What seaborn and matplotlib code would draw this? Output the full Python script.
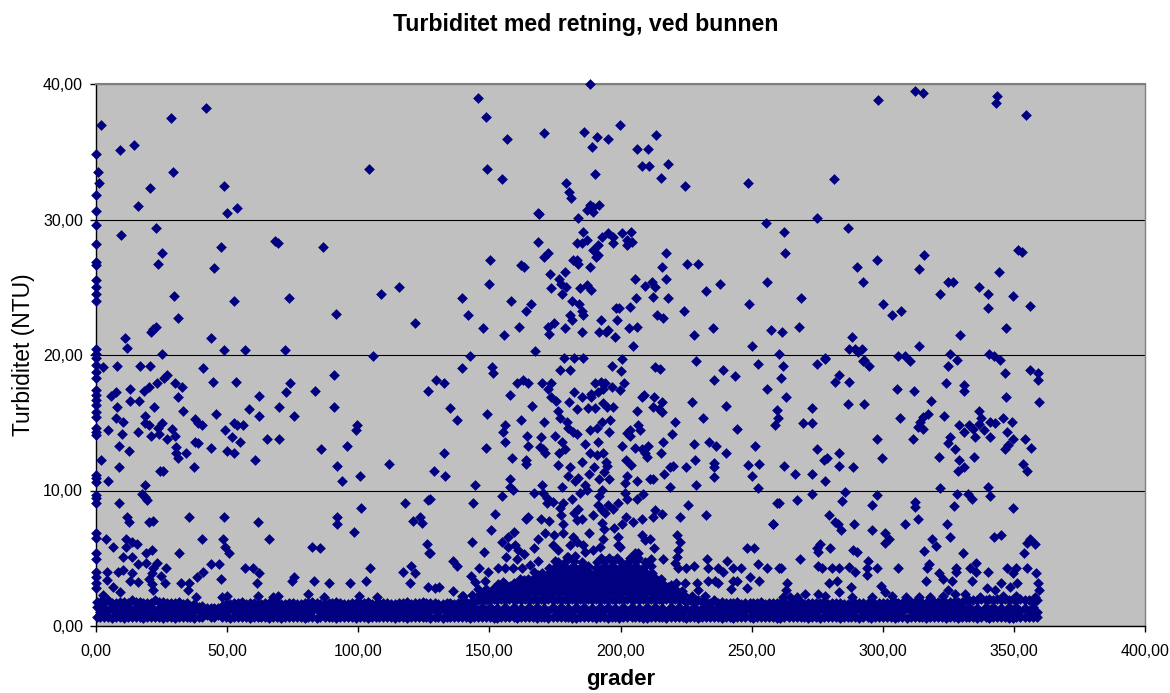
import matplotlib

matplotlib.use("Agg")

import matplotlib.pyplot as plt
import pandas as pd
import seaborn as sns
from matplotlib.ticker import FuncFormatter

# single readings, grouped by the part of the chart they were read from
upper_left_x = [1.9, 28.6, 42.0, 0.1, 9.3, 14.6, 0.9, 29.4, 104.1, 1.3, 20.6, 48.9, 0.1, 16.0, 53.9, 50.0, 0.1, 0.1,
                23.0, 9.6, 0.1, 47.5, 68.3, 69.3, 86.6, 25.0, 0.1, 0.1, 23.8, 45.1, 0.1, 0.1, 0.1, 0.1, 29.6, 52.7,
                73.6, 108.7, 115.7, 91.5, 121.8, 31.4, 22.8, 21.9, 20.8, 10.9, 11.8, 43.7, 48.9, 56.7, 72.2, 25.0,
                105.8, 0.1, 0.1]
upper_left_y = [37.0, 37.5, 38.2, 34.8, 35.1, 35.5, 33.5, 33.5, 33.7, 32.7, 32.35, 32.5, 31.8, 31.0, 30.85, 30.5, 30.65, 29.6,
                29.35, 28.85, 28.2, 28.0, 28.4, 28.25, 28.0, 27.5, 26.9, 26.65, 26.75, 26.4, 25.5, 25.0, 24.5, 24.0, 24.35, 24.0,
                24.2, 24.5, 25.0, 23.0, 22.35, 22.75, 22.1, 21.9, 21.7, 21.25, 20.5, 21.25, 20.35, 20.35, 20.35, 20.1,
                19.9, 20.45, 20.1]

axis_y = [19.75, 19.26, 18.77, 18.28, 17.42, 17.05, 16.68, 16.31, 15.82, 15.45, 14.59, 14.34, 14.1, 11.15, 10.9, 10.65,
          9.67, 9.42, 9.05, 6.84, 6.47, 5.36, 4.92, 4.0, 3.64, 3.15, 2.78]
axis_x = [0.1, 0.1, 0.1, 0.1, 0.1, 0.1, 0.1, 0.1, 0.1, 0.1, 0.1, 0.1, 0.1, 0.1, 0.1, 0.1,
          0.1, 0.1, 0.1, 0.1, 0.1, 0.1, 0.1, 0.1, 0.1, 0.1, 0.1]

lower_left_x = [2.5, 7.9, 16.9, 20.6, 40.9, 27.2, 25.9, 23.4, 20.3, 18.4, 12.8, 30.0, 32.9, 31.1, 44.7, 53.5, 90.8, 74.1,
                72.5, 83.4, 62.3, 126.6, 7.6, 5.6, 13.1, 16.3, 7.9, 22.2, 33.2, 45.8, 58.5, 69.7, 62.0, 75.6, 90.8, 18.7,
                7.6, 10.4, 18.7, 20.3, 25.0, 23.8, 24.0, 37.8, 39.0, 40.3, 52.6, 53.6, 55.9, 49.0, 4.7, 9.9, 16.1, 21.0,
                29.0, 30.1, 27.2, 51.7, 54.9, 65.1, 69.7, 99.4, 99.1, 95.6, 85.8, 8.6, 12.5, 30.4, 30.4, 31.4, 34.3, 37.9,
                39.0, 43.7, 50.0, 52.6, 60.6, 1.9, 8.6, 24.4, 25.4, 37.5, 91.8, 111.9, 100.7, 93.7, 4.7, 18.8, 17.5, 18.7,
                19.6, 8.6, 117.8, 126.6, 101.0, 11.7, 12.7, 20.1, 21.9, 35.6, 48.7, 61.6, 92.0, 91.8, 121.0, 123.5, 124.2,
                98.5, 3.7, 11.4, 13.6, 15.5, 11.4, 6.6, 40.5, 48.3, 49.2, 50.7, 65.8, 82.4, 85.5, 126.2, 127.0, 21.2, 18.9,
                31.6, 10.4, 13.6, 16.1, 18.9, 23.1, 21.9, 21.2, 26.8, 43.8, 47.0, 56.8, 60.0, 62.3, 40.8, 38.4, 104.5,
                120.1, 117.0, 121.8, 10.4, 8.5, 13.6, 4.1, 75.6, 74.9, 83.3, 89.0, 96.8, 103.0, 47.5, 61.3, 119.6, 32.3,
                35.6, 20.3, 21.2, 21.9, 24.7, 26.3, 13.0, 16.1, 4.1, 6.6, 35.2, 38.1, 126.6, 81.0, 61.9, 69.5, 67.6, 87.0,
                100.4, 107.3, 49.8, 47.9, 9.1, 2.8]
lower_left_y = [19.09, 19.19, 19.19, 19.19, 19.04, 18.53, 18.28, 17.9, 17.66, 17.37, 17.52, 17.9, 17.66, 16.88, 18.03, 18.03, 18.53, 17.9,
                17.25, 17.37, 17.0, 17.37, 17.25, 17.0, 16.63, 16.63, 16.14, 16.14, 15.87, 15.62, 15.99, 16.14, 15.5, 15.5, 16.14, 15.5,
                15.33, 15.08, 15.0, 14.8, 15.0, 14.59, 14.2, 15.25, 15.0, 14.8, 15.0, 14.84, 14.84, 14.47, 14.47, 14.2, 14.32, 14.02,
                14.56, 14.02, 13.83, 13.92, 13.56, 13.83, 13.83, 14.86, 14.44, 13.29, 13.04, 13.29, 12.89, 13.19, 12.74, 12.37, 12.74, 13.56,
                13.53, 13.16, 12.89, 12.74, 12.23, 12.23, 11.74, 11.46, 11.46, 11.74, 11.83, 11.98, 11.07, 10.68, 10.68, 10.43, 9.74, 9.55,
                9.3, 9.08, 9.08, 9.32, 8.71, 8.07, 7.7, 7.65, 7.77, 8.05, 8.05, 7.65, 8.05, 7.5, 7.77, 8.07, 7.63,
                6.96, 6.45, 6.45, 6.22, 6.05, 5.86, 5.86, 6.42, 6.45, 5.81, 5.36, 6.42, 5.86, 5.73, 6.03, 5.36, 5.61, 5.36,
                5.36, 5.07, 5.07, 4.55, 4.67, 4.63, 4.26, 3.94, 4.28, 4.55, 4.55, 4.28, 4.28, 3.89, 4.01, 3.59, 4.28,
                4.43, 4.01, 3.89, 4.13, 4.01, 3.94, 4.01, 3.59, 3.35, 3.35, 3.2, 3.2, 3.35, 3.47, 3.2, 3.2, 3.2,
                3.2, 3.45, 3.1, 2.66, 3.69, 3.2, 3.35, 3.27, 3.4, 2.9, 2.66, 2.12, 2.9, 2.36, 2.2, 2.2, 2.12, 2.12,
                2.2, 2.12, 2.2, 2.12, 2.53, 2.29]

upper_mid_x = [145.5, 148.7, 188.4, 156.8, 170.8, 186.0, 191.0, 195.1, 199.7, 213.7, 189.1, 206.3, 210.5, 149.0, 154.7, 190.2,
               179.2, 180.4, 181.0, 208.3, 210.9, 218.1, 215.5, 224.6, 248.8, 168.7, 168.9, 183.8, 187.1, 188.4, 189.6, 189.6,
               191.9, 255.5, 185.6, 187.1, 185.2, 183.4, 192.8, 195.4, 197.0, 197.1, 200.7, 204.1, 202.4, 204.3, 202.4, 191.6,
               189.6, 191.6, 190.5, 168.7, 172.5, 170.8, 181.8, 183.4, 183.9, 150.4, 161.9, 163.2, 188.4, 217.5, 215.8, 225.5,
               229.4, 173.0, 178.8, 176.6, 177.2, 179.2, 173.6, 177.8, 184.7, 187.1, 188.6, 149.7, 205.7, 209.3, 211.9, 213.2,
               217.5, 238.0, 232.5, 255.9, 139.6, 158.1, 166.0, 163.8, 141.7, 181.6, 184.2, 185.2, 185.6, 180.6, 181.6, 205.9,
               212.5, 218.1, 203.7, 198.3, 199.4, 249.1, 224.2, 213.8, 216.1, 192.7, 198.5, 147.7, 155.7, 161.3, 174.6, 172.5,
               172.9, 178.8, 185.3, 191.8, 194.5, 195.4, 197.9, 203.2, 206.3, 235.1, 228.2, 257.5, 204.6, 250.1, 167.3]
upper_mid_y = [38.97, 37.59, 39.98, 35.95, 36.36, 36.49, 36.12, 35.95, 36.98, 36.22, 35.33, 35.2, 35.2, 33.73, 32.97, 33.34,
               32.72, 32.0, 31.59, 33.98, 33.98, 34.1, 33.09, 32.48, 32.72, 30.46, 30.38, 30.1, 30.7, 31.07, 30.95, 30.58,
               31.1, 29.75, 29.1, 28.5, 28.3, 28.25, 28.74, 28.98, 28.74, 28.25, 28.98, 29.1, 28.5, 28.37, 28.12, 28.12,
               27.75, 27.39, 27.2, 28.37, 27.51, 27.24, 27.0, 27.0, 26.75, 27.0, 26.62, 26.5, 26.5, 27.51, 26.5, 26.75,
               26.75, 25.98, 26.13, 25.61, 25.24, 25.0, 24.97, 24.48, 24.97, 25.2, 24.78, 25.24, 25.61, 25.12, 25.39, 25.0,
               25.61, 25.24, 24.75, 25.37, 24.24, 23.99, 23.74, 23.23, 22.98, 23.99, 23.74, 23.23, 22.98, 22.98, 22.59, 24.24,
               24.31, 24.24, 23.57, 23.47, 23.47, 23.74, 23.23, 22.98, 22.74, 22.61, 22.61, 21.97, 21.46, 22.1, 22.34, 22.1,
               21.58, 21.97, 21.73, 21.73, 21.73, 21.85, 21.33, 21.97, 22.1, 21.97, 21.46, 21.85, 20.69, 20.69, 20.32]

lower_mid_x = [142.6, 139.6, 151.0, 151.5, 178.6, 182.3, 185.6, 176.9, 180.7, 200.6, 196.8, 200.3, 213.3, 215.1, 228.8, 239.2,
               235.5, 243.5, 252.3, 255.9, 129.6, 132.6, 160.4, 162.7, 164.9, 170.0, 173.4, 172.5, 157.9, 173.5, 175.4, 166.3,
               176.2, 177.0, 180.5, 183.5, 182.1, 185.3, 188.6, 188.6, 190.3, 192.4, 194.1, 191.5, 193.2, 196.6, 201.3, 199.9,
               208.1, 209.0, 212.6, 193.5, 195.0, 197.3, 187.7, 190.3, 206.3, 212.5, 215.8, 214.8, 216.0, 227.4, 240.4, 231.3,
               220.7, 259.6, 260.2, 259.0, 244.3, 135.0, 137.5, 149.1, 162.1, 170.8, 156.1, 155.1, 156.1, 179.7, 180.1, 182.0,
               183.3, 188.4, 190.9, 193.0, 196.1, 195.5, 202.4, 203.6, 203.6, 206.7, 207.3, 219.8, 164.5, 169.8, 175.0, 177.7,
               164.9, 169.3, 170.6, 171.3, 186.3, 191.5, 200.7, 205.5, 208.1, 210.6, 209.3, 210.2, 216.2, 215.3, 228.0, 233.9,
               236.4, 240.4, 251.3, 132.8, 148.7, 178.8, 176.6, 188.4, 190.9, 193.5, 158.5, 164.0, 164.0, 176.2, 180.6, 185.3,
               194.5, 195.0, 202.1, 204.0, 228.4, 189.8, 220.1, 218.9, 224.8, 235.7, 235.7, 248.8, 252.9, 128.9, 133.1, 157.9,
               193.7, 188.0, 183.9, 182.7, 179.9, 191.8, 195.5, 202.4, 201.7, 206.2, 211.3, 212.3, 216.6, 235.5, 250.1, 144.5,
               170.2, 177.6, 228.7, 218.9, 252.6, 159.1, 157.9, 186.5, 187.1, 184.6, 192.8, 191.9, 201.7, 202.4, 208.7, 206.2,
               167.0, 170.6, 171.8, 171.8, 174.4, 154.7, 143.9, 127.4, 181.4, 178.2, 176.9, 177.2, 199.2, 191.6, 192.8, 194.1,
               195.4, 197.0, 225.9, 259.6, 152.2, 183.9, 182.3, 183.3, 185.2, 189.4, 213.2, 216.0, 212.3, 208.3, 202.0, 204.9,
               200.5, 197.6, 222.8, 232.6, 258.0, 164.9, 164.0, 169.8, 172.7, 178.2, 192.8, 193.7, 150.6, 159.5, 157.2, 171.2,
               168.7, 174.8, 178.0, 182.0, 188.0, 208.1, 211.3, 209.3, 221.4, 222.7, 143.4, 154.7, 159.8, 157.2, 156.3, 160.4,
               163.3, 161.0, 174.4, 176.3, 199.2, 199.2, 199.8, 193.5, 192.2, 189.6, 185.8, 186.5, 180.7, 183.3, 167.0, 148.0,
               212.6, 127.4, 222.0, 205.5, 206.8, 248.1, 250.9, 136.3, 137.8, 146.0, 149.6, 153.4, 156.0, 158.9, 162.6, 165.5,
               168.7, 175.0, 180.1, 221.4, 220.8, 222.1, 225.0, 228.2, 216.3, 211.5, 233.0, 233.2, 237.3, 240.5, 239.2, 243.0,
               245.8, 252.4, 256.0, 260.4, 249.5, 252.9, 233.5, 236.0, 237.3, 243.0, 244.6, 242.0, 248.4, 221.2, 224.6, 229.0,
               229.7, 232.2, 142.9, 144.5, 148.3, 155.3, 157.9, 130.9, 129.3, 136.3, 139.4]
lower_mid_y = [19.95, 19.04, 19.14, 18.65, 19.75, 19.75, 19.75, 18.92, 18.92, 19.68, 19.19, 18.8, 19.09, 18.94, 19.56, 18.92,
               18.16, 18.43, 19.31, 17.52, 18.16, 17.91, 17.91, 18.16, 17.91, 17.91, 17.91, 17.52, 17.02, 16.88, 16.63, 16.26,
               15.87, 15.33, 16.51, 15.99, 17.27, 16.88, 17.15, 16.88, 17.91, 18.03, 17.91, 17.29, 17.47, 17.66, 17.91, 17.42,
               16.88, 17.02, 16.88, 16.43, 16.14, 16.14, 16.11, 16.11, 15.87, 16.14, 16.56, 15.99, 15.82, 16.51, 16.26, 15.35,
               15.08, 15.94, 15.33, 14.84, 14.56, 16.11, 15.2, 15.62, 15.2, 15.08, 14.84, 14.32, 13.56, 15.08, 14.59, 14.34,
               14.17, 14.47, 14.59, 15.08, 15.2, 14.32, 14.27, 14.47, 14.0, 14.84, 14.44, 14.2, 14.05, 13.92, 14.05, 13.56,
               13.29, 13.24, 13.04, 12.79, 13.41, 13.56, 13.29, 13.16, 13.04, 13.29, 12.74, 12.45, 13.56, 12.77, 13.41, 13.56,
               13.29, 12.77, 13.29, 12.77, 13.16, 13.04, 12.77, 12.77, 12.65, 12.77, 12.37, 12.25, 11.93, 11.86, 11.74, 12.13,
               12.13, 11.83, 12.25, 11.86, 12.25, 11.74, 11.83, 11.71, 11.74, 12.0, 11.71, 11.86, 11.98, 11.46, 11.07, 10.83,
               11.34, 11.19, 10.9, 10.7, 11.07, 10.83, 10.83, 11.07, 10.53, 10.7, 10.83, 10.83, 11.19, 11.02, 11.07, 10.43,
               10.43, 10.28, 10.43, 10.28, 10.16, 10.04, 10.28, 10.41, 10.04, 9.84, 10.04, 9.62, 9.84, 9.37, 9.74, 9.37,
               9.84, 9.84, 9.42, 9.05, 9.18, 9.62, 9.08, 9.35, 9.37, 9.05, 8.69, 8.19, 9.08, 8.93, 8.56, 8.32,
               8.93, 8.61, 8.96, 9.05, 8.29, 8.61, 8.32, 7.82, 7.9, 8.17, 8.56, 8.29, 8.07, 7.9, 8.07, 7.65,
               7.53, 7.26, 8.02, 8.17, 7.5, 8.02, 7.87, 7.9, 7.77, 7.53, 7.63, 7.18, 7.09, 6.96, 6.59, 6.84,
               6.45, 6.72, 6.84, 6.59, 6.84, 6.72, 6.45, 6.35, 6.72, 6.2, 6.22, 6.18, 5.98, 5.86, 5.12, 4.92,
               5.32, 5.61, 5.98, 5.61, 6.59, 5.98, 5.86, 6.45, 5.86, 5.61, 5.98, 5.49, 5.98, 6.22, 5.73, 5.49,
               5.73, 5.37, 5.61, 5.37, 5.37, 5.73, 5.73, 4.82, 4.43, 4.28, 4.0, 4.28, 4.28, 4.28, 4.28, 4.5,
               4.82, 4.82, 5.12, 5.12, 4.63, 4.26, 4.28, 4.43, 4.92, 4.92, 4.92, 4.28, 4.28, 4.82, 4.0, 4.28,
               4.28, 4.55, 4.28, 4.28, 3.59, 3.35, 3.35, 3.35, 3.15, 3.35, 3.35, 2.73, 2.78, 3.2, 3.2, 3.15,
               2.66, 2.2, 3.69, 3.22, 3.35, 3.22, 2.95, 2.9, 2.78, 2.61, 2.2]

upper_right_x = [298.3, 312.2, 315.2, 343.7, 343.3, 354.5, 281.5, 274.8, 262.5, 286.7, 262.6, 290.3, 297.7, 315.9, 313.7, 351.6,
                 353.2, 344.2, 292.6, 324.7, 326.8, 321.8, 336.8, 340.1, 349.5, 268.8, 300.0, 303.6, 307.1, 340.1, 356.0, 347.1,
                 261.4, 268.2, 288.1, 329.6, 313.8, 287.1, 289.4, 290.7, 292.0, 260.4]
upper_right_y = [38.85, 39.49, 39.34, 39.12, 38.58, 37.72, 32.97, 30.12, 29.11, 29.35, 27.51, 26.5, 27.0, 27.39, 26.38, 27.75,
                 27.6, 26.13, 25.37, 25.37, 25.37, 24.48, 25.0, 24.48, 24.36, 24.24, 23.74, 22.98, 23.23, 23.47, 23.6, 21.97,
                 21.73, 22.1, 21.33, 21.46, 20.69, 20.45, 20.45, 20.25, 20.45, 20.05]

lower_right_x = [277.8, 305.9, 308.5, 325.6, 340.4, 342.4, 292.7, 328.2, 344.7, 261.8, 274.8, 278.0, 292.6, 294.8, 310.4, 325.0,
                 261.1, 283.3, 281.8, 287.1, 305.3, 312.0, 324.0, 331.0, 331.0, 346.5, 356.3, 359.1, 359.1, 263.1, 347.1, 359.4,
                 318.3, 273.0, 286.7, 292.7, 269.7, 273.0, 306.4, 317.2, 315.5, 314.2, 313.6, 315.5, 323.2, 329.2, 331.0, 333.0,
                 334.3, 335.2, 336.6, 337.6, 336.8, 338.7, 340.9, 342.9, 340.8, 345.7, 349.3, 347.5, 297.7, 311.7, 325.6, 325.0,
                 349.8, 347.9, 346.5, 354.1, 356.6, 274.8, 327.4, 283.4, 278.6, 277.7, 299.7, 321.4, 329.2, 334.9, 262.5, 283.3,
                 288.5, 331.0, 328.8, 353.5, 354.9, 266.7, 273.0, 278.0, 321.8, 340.1, 340.8, 273.0, 285.6, 297.9, 328.4, 332.6,
                 334.0, 267.2, 260.4, 284.6, 295.8, 312.3, 312.3, 327.2, 349.5, 279.4, 281.8, 283.1, 284.2, 313.4, 289.2, 258.3,
                 308.5, 324.6, 295.9, 300.9, 302.5, 300.9, 325.6, 318.6, 320.4, 342.4, 345.0, 356.1, 354.9, 358.0, 353.9, 276.1,
                 274.8, 275.2, 280.0, 288.5, 290.0, 315.9, 330.6, 268.4, 294.5, 293.9, 294.1, 261.1, 275.4, 277.0, 280.5, 283.3,
                 287.1, 289.5, 297.7, 305.7, 317.6, 317.0, 321.4, 323.1, 326.3, 327.8, 327.8, 333.3, 335.6, 335.6, 340.3, 347.5,
                 350.7, 349.5, 354.9, 358.4, 279.4, 282.4, 316.5, 334.2, 345.1, 351.3, 348.5, 359.1, 359.4, 263.6, 263.1, 287.8,
                 283.3, 299.3, 300.9, 303.4, 325.0, 327.5, 339.6, 342.8, 331.4, 270.3, 261.8, 264.6, 267.2, 275.4, 278.0, 288.1,
                 295.8, 308.9, 313.9, 318.0, 322.8, 337.1, 346.0, 351.0, 358.0]
lower_right_y = [19.76, 19.96, 19.96, 20.08, 20.08, 19.96, 19.64, 19.64, 19.64, 19.19, 19.31, 19.68, 19.56, 19.19, 19.56, 19.19,
                 18.28, 18.55, 18.03, 18.03, 17.52, 17.37, 17.91, 17.79, 17.37, 18.67, 18.92, 18.67, 18.16, 16.88, 16.88, 16.51,
                 16.63, 16.11, 16.36, 16.36, 14.96, 14.96, 15.33, 15.62, 15.45, 15.08, 14.66, 14.51, 15.47, 14.81, 14.32, 14.84,
                 14.51, 13.93, 15.87, 15.33, 14.91, 14.44, 15.08, 14.96, 13.93, 15.33, 15.08, 14.32, 13.83, 13.8, 13.93, 13.53,
                 13.83, 13.36, 13.04, 13.8, 13.16, 13.04, 13.04, 12.77, 12.37, 12.25, 12.37, 12.5, 12.25, 12.5, 11.83, 11.83,
                 11.74, 11.74, 11.46, 11.98, 11.46, 11.19, 11.19, 10.68, 10.16, 10.28, 9.62, 9.77, 9.89, 9.64, 9.77, 9.77,
                 9.37, 9.32, 9.08, 9.2, 8.96, 9.13, 8.81, 8.83, 8.71, 8.17, 7.65, 7.53, 7.09, 7.9, 7.53, 7.53,
                 7.53, 7.53, 7.09, 6.84, 6.45, 6.15, 6.57, 6.45, 5.88, 6.57, 6.72, 6.45, 6.1, 6.03, 5.36, 6.03,
                 5.73, 5.49, 5.76, 5.61, 5.49, 5.51, 5.37, 4.92, 4.82, 4.28, 3.74, 4.28, 4.43, 4.28, 4.28, 4.28,
                 4.36, 4.0, 4.28, 4.28, 4.55, 4.28, 3.89, 3.47, 3.35, 4.28, 4.0, 4.28, 4.63, 4.0, 4.0, 4.28,
                 4.28, 3.89, 4.28, 3.94, 3.2, 3.35, 3.35, 3.35, 3.2, 3.2, 2.9, 3.2, 2.66, 3.2, 2.66, 2.9,
                 2.51, 2.95, 2.53, 2.2, 2.66, 2.36, 2.78, 2.66, 2.36, 2.36, 2.17, 2.17, 2.17, 2.36, 2.2, 2.12,
                 2.12, 2.12, 2.12, 2.12, 2.2, 2.12, 2.2, 2.2, 2.17]

# the solid band along the bottom, read as alternating rows of readings
band_x_a = [0.2, 3.1, 6.2, 9.0, 12.1, 15.2, 18.0, 21.1, 24.2, 27.0,
            30.1, 33.2, 36.0, 39.1, 42.2, 45.0, 48.1, 51.2, 54.0, 57.1,
            60.2, 63.0, 66.1, 69.2, 72.0, 75.1, 78.2, 81.0, 84.1, 87.2,
            90.0, 93.1, 96.2, 99.0, 102.1, 105.2, 108.0, 111.1, 114.2, 117.0,
            120.1, 123.2, 126.0, 129.1, 132.2, 135.0, 138.1, 141.2, 144.0, 147.1,
            150.2, 153.0, 156.1, 159.2, 162.0, 165.1, 168.2, 171.0, 174.1, 177.2,
            180.0, 183.1, 186.2, 189.0, 192.1, 195.2, 198.0, 201.1, 204.2, 207.0,
            210.1, 213.2, 216.0, 219.1, 222.2, 225.0, 228.1, 231.2, 234.0, 237.1,
            240.2, 243.0, 246.1, 249.2, 252.0, 255.1, 258.2, 261.0, 264.1, 267.2,
            270.0, 273.1, 276.2, 279.0, 282.1, 285.2, 288.0, 291.1, 294.2, 297.0,
            300.1, 303.2, 306.0, 309.1, 312.2, 315.0, 318.1, 321.2, 324.0, 327.1,
            330.2, 333.0, 336.1, 339.2, 342.0, 345.1, 348.2, 351.0, 354.1, 357.2]
band_a_low = [0.7, 0.7, 0.6, 0.7, 0.7, 0.7, 0.6, 0.7, 0.7, 0.7,
              0.6, 0.7, 0.7, 0.7, 0.8, 0.7, 0.7, 0.6, 0.7, 0.7,
              0.7, 0.7, 0.6, 0.7, 0.7, 0.7, 0.7, 0.7, 0.6, 0.7,
              0.7, 0.7, 0.7, 0.6, 0.7, 0.7, 0.7, 0.7, 0.6, 0.7,
              0.7, 0.7, 0.7, 0.7, 0.6, 0.7, 0.7, 0.7, 0.7, 0.7,
              0.7, 0.6, 0.7, 0.7, 0.7, 0.7, 0.6, 0.7, 0.7, 0.7,
              0.7, 0.6, 0.7, 0.7, 0.7, 0.6, 0.7, 0.7, 0.7, 0.7,
              0.6, 0.7, 0.7, 0.7, 0.7, 0.6, 0.7, 0.7, 0.7, 0.7,
              0.7, 0.6, 0.7, 0.7, 0.7, 0.7, 0.7, 0.6, 0.7, 0.7,
              0.7, 0.7, 0.6, 0.7, 0.7, 0.7, 0.7, 0.6, 0.7, 0.7,
              0.7, 0.7, 0.7, 0.6, 0.7, 0.7, 0.7, 0.7, 0.6, 0.7,
              0.7, 0.7, 0.6, 0.7, 0.7, 0.7, 0.6, 0.7, 0.7, 0.7]
band_a_high = [1.4, 1.3, 1.4, 1.3, 1.4, 1.4, 1.3, 1.4, 1.3, 1.4,
               1.4, 1.3, 1.3, 1.2, 1.2, 1.2, 1.3, 1.4, 1.3, 1.4,
               1.3, 1.4, 1.4, 1.3, 1.4, 1.3, 1.4, 1.3, 1.4, 1.3,
               1.4, 1.3, 1.4, 1.4, 1.3, 1.4, 1.3, 1.4, 1.3, 1.4,
               1.3, 1.4, 1.3, 1.4, 1.4, 1.3, 1.4, 1.3, 1.4, 1.4,
               1.4, 1.3, 1.4, 1.4, 1.3, 1.4, 1.4, 1.3, 1.4, 1.4,
               1.3, 1.4, 1.4, 1.3, 1.4, 1.4, 1.3, 1.4, 1.4, 1.3,
               1.4, 1.4, 1.3, 1.4, 1.4, 1.3, 1.4, 1.3, 1.4, 1.4,
               1.3, 1.4, 1.3, 1.4, 1.3, 1.4, 1.4, 1.3, 1.4, 1.3,
               1.4, 1.3, 1.4, 1.4, 1.3, 1.4, 1.3, 1.4, 1.4, 1.3,
               1.4, 1.3, 1.4, 1.4, 1.3, 1.4, 1.4, 1.3, 1.4, 1.3,
               1.4, 1.4, 1.3, 1.4, 1.4, 1.3, 1.4, 1.4, 1.3, 1.4]
band_a_top = [1.8, 1.7, 1.7, 1.8, 1.7, 1.8, 1.7, 1.7, 1.8, 1.7,
              1.7, 1.6, 1.5, 1.4, 1.3, 1.3, 1.5, 1.6, 1.7, 1.6,
              1.7, 1.6, 1.7, 1.7, 1.6, 1.7, 1.6, 1.7, 1.7, 1.6,
              1.7, 1.7, 1.6, 1.7, 1.7, 1.6, 1.7, 1.7, 1.6, 1.7,
              1.6, 1.7, 1.7, 1.7, 1.6, 1.7, 1.7, 1.8, 1.8, 1.9,
              1.9, 1.9, 1.9, 1.9, 1.9, 1.9, 1.9, 1.9, 1.9, 1.9,
              1.9, 1.9, 1.9, 1.9, 1.9, 1.9, 1.9, 1.9, 1.9, 1.9,
              1.9, 1.9, 1.9, 1.9, 1.9, 1.8, 1.8, 1.8, 1.7, 1.7,
              1.7, 1.7, 1.6, 1.7, 1.7, 1.6, 1.7, 1.7, 1.6, 1.7,
              1.6, 1.7, 1.7, 1.6, 1.7, 1.6, 1.6, 1.7, 1.7, 1.6,
              1.7, 1.7, 1.7, 1.7, 1.8, 1.7, 1.7, 1.8, 1.7, 1.8,
              1.8, 1.9, 1.9, 1.9, 1.9, 1.9, 1.9, 1.9, 1.9, 1.8]
band_x_b = [1.7, 4.6, 7.7, 10.5, 13.6, 16.7, 19.5, 22.6, 25.7, 28.5,
            31.6, 34.7, 37.5, 40.6, 43.7, 46.5, 49.6, 52.7, 55.5, 58.6,
            61.7, 64.5, 67.6, 70.7, 73.5, 76.6, 79.7, 82.5, 85.6, 88.7,
            91.5, 94.6, 97.7, 100.5, 103.6, 106.7, 109.5, 112.6, 115.7, 118.5,
            121.6, 124.7, 127.5, 130.6, 133.7, 136.5, 139.6, 142.7, 145.5, 148.6,
            151.7, 154.5, 157.6, 160.7, 163.5, 166.6, 169.7, 172.5, 175.6, 178.7,
            181.5, 184.6, 187.7, 190.5, 193.6, 196.7, 199.5, 202.6, 205.7, 208.5,
            211.6, 214.7, 217.5, 220.6, 223.7, 226.5, 229.6, 232.7, 235.5, 238.6,
            241.7, 244.5, 247.6, 250.7, 253.5, 256.6, 259.7, 262.5, 265.6, 268.7,
            271.5, 274.6, 277.7, 280.5, 283.6, 286.7, 289.5, 292.6, 295.7, 298.5,
            301.6, 304.7, 307.5, 310.6, 313.7, 316.5, 319.6, 322.7, 325.5, 328.6,
            331.7, 334.5, 337.6, 340.7, 343.5, 346.6, 349.7, 352.5, 355.6, 358.7]
band_b_bottom = [0.7, 0.7, 0.7, 0.6, 0.7, 0.7, 0.7, 0.7, 0.6, 0.7,
                 0.7, 0.7, 0.6, 0.7, 0.7, 0.8, 0.7, 0.7, 0.7, 0.6,
                 0.7, 0.7, 0.7, 0.6, 0.7, 0.7, 0.6, 0.7, 0.7, 0.7,
                 0.6, 0.7, 0.7, 0.7, 0.6, 0.7, 0.7, 0.7, 0.7, 0.6,
                 0.7, 0.7, 0.6, 0.7, 0.7, 0.7, 0.7, 0.6, 0.7, 0.7,
                 0.6, 0.7, 0.7, 0.6, 0.7, 0.7, 0.7, 0.6, 0.7, 0.7,
                 0.6, 0.7, 0.7, 0.6, 0.7, 0.7, 0.6, 0.7, 0.7, 0.6,
                 0.7, 0.7, 0.6, 0.7, 0.7, 0.7, 0.6, 0.7, 0.7, 0.6,
                 0.7, 0.7, 0.7, 0.6, 0.7, 0.7, 0.6, 0.7, 0.7, 0.7,
                 0.6, 0.7, 0.7, 0.7, 0.6, 0.7, 0.7, 0.7, 0.6, 0.7,
                 0.7, 0.6, 0.7, 0.7, 0.7, 0.6, 0.7, 0.7, 0.7, 0.6,
                 0.7, 0.7, 0.7, 0.6, 0.7, 0.7, 0.6, 0.7, 0.7, 0.7]
band_b_low = [1.0, 1.1, 1.0, 1.0, 1.1, 1.0, 1.0, 1.0, 1.1, 1.0,
              1.0, 1.0, 1.1, 1.0, 1.0, 1.0, 1.0, 1.1, 1.0, 1.0,
              1.1, 1.0, 1.0, 1.0, 1.1, 1.0, 1.0, 1.1, 1.0, 1.0,
              1.0, 1.1, 1.0, 1.0, 1.0, 1.1, 1.0, 1.0, 1.0, 1.1,
              1.0, 1.0, 1.1, 1.0, 1.0, 1.0, 1.1, 1.0, 1.0, 1.0,
              1.1, 1.0, 1.0, 1.0, 1.1, 1.0, 1.0, 1.1, 1.0, 1.0,
              1.0, 1.1, 1.0, 1.0, 1.1, 1.0, 1.0, 1.0, 1.1, 1.0,
              1.0, 1.1, 1.0, 1.0, 1.0, 1.1, 1.0, 1.0, 1.1, 1.0,
              1.0, 1.0, 1.1, 1.0, 1.0, 1.1, 1.0, 1.0, 1.0, 1.1,
              1.0, 1.0, 1.1, 1.0, 1.0, 1.0, 1.1, 1.0, 1.0, 1.1,
              1.0, 1.0, 1.0, 1.1, 1.0, 1.0, 1.1, 1.0, 1.0, 1.0,
              1.1, 1.0, 1.0, 1.1, 1.0, 1.0, 1.0, 1.1, 1.0, 1.0]
band_b_high = [1.8, 1.9, 1.7, 1.8, 1.9, 1.8, 1.7, 1.9, 1.8, 1.7,
               1.8, 1.7, 1.6, 1.5, 1.3, 1.3, 1.6, 1.7, 1.8, 1.7,
               1.6, 1.7, 1.8, 1.6, 1.7, 1.6, 1.7, 1.8, 1.6, 1.7,
               1.8, 1.6, 1.7, 1.7, 1.8, 1.6, 1.7, 1.6, 1.7, 1.8,
               1.7, 1.8, 1.7, 1.6, 1.7, 1.6, 1.8, 1.7, 1.9, 1.9,
               2.0, 2.0, 2.0, 2.0, 2.0, 2.0, 2.0, 2.0, 2.0, 2.0,
               2.0, 2.0, 2.0, 2.0, 2.0, 2.0, 2.0, 2.0, 2.0, 2.0,
               2.0, 2.0, 2.0, 2.0, 2.0, 1.9, 1.9, 1.8, 1.9, 1.8,
               1.7, 1.8, 1.7, 1.7, 1.8, 1.7, 1.7, 1.8, 1.7, 1.8,
               1.7, 1.7, 1.8, 1.7, 1.7, 1.6, 1.7, 1.7, 1.8, 1.7,
               1.7, 1.8, 1.7, 1.8, 1.8, 1.7, 1.8, 1.8, 1.8, 1.8,
               1.9, 1.9, 2.0, 2.0, 2.0, 2.0, 2.0, 2.0, 1.9, 1.9]

# readings stacked above the band around 180 degrees
hump_x = [140.1, 143.2, 146.1, 149.2, 152.1, 155.2, 158.1, 161.2, 164.1, 167.2, 170.1, 173.2, 176.1, 179.2, 182.1, 185.2,
          188.1, 191.2, 194.1, 197.2, 200.1, 203.2, 206.1, 209.2, 212.1, 215.2, 218.1, 221.2, 224.1, 227.2,
          145.6, 148.7, 151.6, 154.7, 157.6, 160.7, 163.6, 166.7, 169.6, 172.7, 175.6, 178.7, 181.6, 184.7, 187.6,
          190.7, 193.6, 196.7, 199.6, 202.7, 205.6, 208.7, 211.6, 214.7, 217.6, 220.7, 223.6,
          153.2, 156.1, 159.2, 162.1, 165.2, 168.1, 171.2, 174.1, 177.2, 180.1, 183.2, 186.1, 189.2, 192.1, 195.2,
          198.1, 201.2, 204.1, 207.2, 210.1, 213.2, 216.1, 219.2,
          161.6, 164.7, 167.6, 170.7, 173.6, 176.7, 179.6, 182.7, 185.6, 188.7, 191.6, 194.7, 197.6, 200.7, 203.6,
          206.7, 209.6, 212.7, 215.6,
          167.2, 170.1, 173.2, 176.1, 179.2, 182.1, 185.2, 188.1, 191.2, 194.1, 197.2, 200.1, 203.2, 206.1, 209.2, 212.1,
          172.6, 175.7, 178.6, 181.7, 184.6, 187.7, 190.6, 193.7, 196.6, 199.7, 202.6, 205.7, 208.6, 211.7,
          176.1, 179.2, 182.1, 185.2, 191.2, 194.1, 197.2, 200.1, 203.2, 206.1, 209.2,
          179.6, 182.7, 192.6, 195.7, 198.6, 203.7, 206.6]
hump_y = [2.2, 2.3, 2.3, 2.3, 2.4, 2.3, 2.4, 2.4, 2.3, 2.4, 2.4, 2.3, 2.4, 2.4, 2.4, 2.3,
          2.4, 2.4, 2.3, 2.4, 2.4, 2.4, 2.3, 2.4, 2.4, 2.3, 2.4, 2.4, 2.3, 2.2,
          2.7, 2.7, 2.8, 2.8, 2.7, 2.8, 2.8, 2.7, 2.8, 2.8, 2.8, 2.7, 2.8, 2.8, 2.7,
          2.8, 2.8, 2.7, 2.8, 2.8, 2.7, 2.8, 2.8, 2.8, 2.7, 2.7, 2.6,
          3.1, 3.1, 3.2, 3.1, 3.2, 3.2, 3.1, 3.2, 3.2, 3.1, 3.2, 3.2, 3.1, 3.2, 3.2,
          3.1, 3.2, 3.2, 3.1, 3.2, 3.2, 3.1, 3.0,
          3.5, 3.5, 3.6, 3.6, 3.5, 3.6, 3.6, 3.5, 3.6, 3.6, 3.5, 3.6, 3.6, 3.5, 3.6,
          3.6, 3.5, 3.6, 3.5,
          4.0, 3.9, 4.0, 4.0, 4.0, 3.9, 4.0, 4.0, 4.0, 3.9, 4.0, 4.0, 3.9, 4.0, 4.0, 3.9,
          4.3, 4.4, 4.4, 4.4, 4.3, 4.4, 4.3, 4.4, 4.4, 4.3, 4.4, 4.4, 4.3, 4.4,
          4.7, 4.8, 4.8, 4.7, 4.7, 4.8, 4.8, 4.7, 4.8, 4.8, 4.7,
          5.1, 5.2, 5.0, 5.0, 5.0, 5.0, 5.0]

hump_fill_x = [147.6, 150.7, 153.6, 156.7, 159.6, 162.7, 165.6, 168.7, 171.6, 174.7, 177.6, 180.7, 183.6, 186.7, 189.6,
               192.7, 195.6, 198.7, 201.6, 204.7, 207.6, 210.7, 213.6, 216.7, 219.6, 222.7,
               155.1, 158.2, 161.1, 164.2, 167.1, 170.2, 173.1, 176.2, 179.1, 182.2, 185.1, 188.2, 191.1, 194.2, 197.1,
               200.2, 203.1, 206.2, 209.1, 212.2, 215.1, 218.2,
               163.1, 166.2, 169.1, 172.2, 175.1, 178.2, 181.1, 184.2, 187.1, 190.2, 193.1, 196.2, 199.1, 202.2, 205.1,
               208.2, 211.1, 214.2,
               168.7, 171.6, 174.7, 177.6, 180.7, 183.6, 186.7, 189.6, 192.7, 195.6, 198.7, 201.6, 204.7, 207.6, 210.7,
               174.1, 177.2, 180.1, 183.2, 186.1, 192.1, 195.2, 198.1, 201.2, 204.1, 207.2]
hump_fill_y = [2.5, 2.5, 2.6, 2.5, 2.6, 2.5, 2.6, 2.6, 2.5, 2.6, 2.6, 2.5, 2.6, 2.6, 2.5,
               2.6, 2.6, 2.5, 2.6, 2.6, 2.5, 2.6, 2.6, 2.5, 2.5, 2.4,
               3.0, 2.9, 3.0, 3.0, 2.9, 3.0, 3.0, 2.9, 3.0, 3.0, 2.9, 3.0, 3.0, 2.9, 3.0,
               3.0, 2.9, 3.0, 3.0, 2.9, 3.0, 2.9,
               3.4, 3.4, 3.3, 3.4, 3.4, 3.3, 3.4, 3.4, 3.3, 3.4, 3.4, 3.3, 3.4, 3.4, 3.3,
               3.4, 3.4, 3.3,
               3.8, 3.7, 3.8, 3.8, 3.7, 3.8, 3.8, 3.7, 3.8, 3.8, 3.7, 3.8, 3.8, 3.7, 3.8,
               4.2, 4.2, 4.1, 4.2, 4.2, 4.1, 4.2, 4.2, 4.1, 4.2, 4.2]

x_ticks = [0, 50, 100, 150, 200, 250, 300, 350, 400]
y_ticks = [0, 10, 20, 30, 40]

chart_title = "Turbiditet med retning, ved bunnen"
x_title = "grader"
y_title = "Turbiditet (NTU)"


def _comma_decimal(value, _pos):
    """
    Two decimals with a decimal comma, as on the original axes.
    """
    return f"{value:.2f}".replace(".", ",")


def main():
    sns.set_theme(style="white")
    plt.rcParams["font.family"] = ["Liberation Sans", "DejaVu Sans"]

    x_groups = [upper_left_x, axis_x, lower_left_x, upper_mid_x, lower_mid_x, upper_right_x, lower_right_x,
                band_x_a, band_x_a, band_x_a, band_x_b, band_x_b, band_x_b, hump_x, hump_fill_x]
    y_groups = [upper_left_y, axis_y, lower_left_y, upper_mid_y, lower_mid_y, upper_right_y, lower_right_y,
                band_a_low, band_a_high, band_a_top, band_b_bottom, band_b_low, band_b_high, hump_y, hump_fill_y]
    df = pd.concat(
        [pd.DataFrame({"grader": xs, "turbiditet": ys}) for xs, ys in zip(x_groups, y_groups)],
        ignore_index=True,
    )

    fig = plt.figure(figsize=(11.7, 6.93), dpi=100)
    ax = fig.add_axes([96 / 1170, 67 / 693, 1049 / 1170, 542 / 693])
    ax.set_facecolor("#C0C0C0")

    sns.scatterplot(
        data=df, x="grader", y="turbiditet", marker="D", s=30, color="#000080",
        linewidth=0, clip_on=False, zorder=5, ax=ax,
    )

    ax.set_xlim(0, 400)
    ax.set_ylim(0, 40)
    ax.set_xticks(x_ticks)
    ax.set_yticks(y_ticks)
    ax.xaxis.set_major_formatter(FuncFormatter(_comma_decimal))
    ax.yaxis.set_major_formatter(FuncFormatter(_comma_decimal))
    ax.tick_params(axis="both", direction="out", length=4.3, width=1, color="black",
                   labelsize=11.5, labelcolor="black", bottom=True, left=True)
    ax.tick_params(axis="x", pad=9)
    ax.tick_params(axis="y", pad=5)
    ax.grid(axis="y", color="black", linewidth=0.8)
    ax.set_axisbelow(True)

    for side in ["left", "bottom"]:
        ax.spines[side].set_color("black")
        ax.spines[side].set_linewidth(1)
    ax.spines["top"].set_color("#808080")
    ax.spines["top"].set_linewidth(1.5)
    ax.spines["right"].set_color("#808080")
    ax.spines["right"].set_linewidth(1)

    ax.set_xlabel(x_title, fontsize=16, fontweight="bold", color="black", labelpad=6.5)
    ax.set_ylabel(y_title, fontsize=16.5, color="black", labelpad=5.5)
    fig.text(586 / 1170, 1 - 25 / 693, chart_title, fontsize=16.7, fontweight="bold",
             color="black", ha="center", va="center")

    fig.savefig("out.png", dpi=100)
    plt.close(fig)


if __name__ == "__main__":
    main()
